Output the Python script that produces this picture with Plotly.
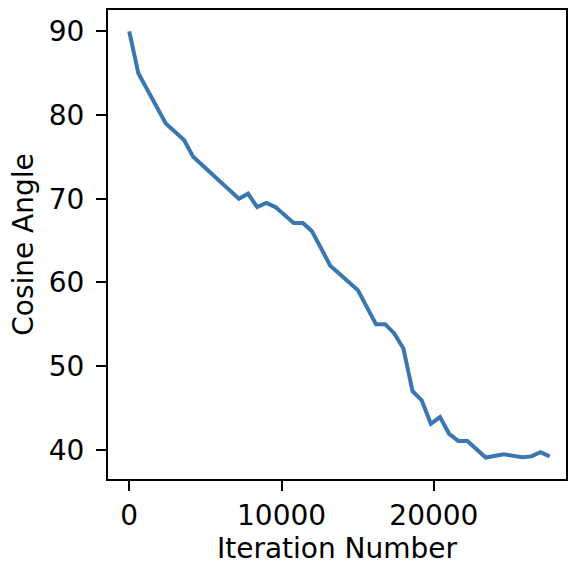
import plotly.graph_objects as go

iterations = [0, 600, 2400, 3600, 4200, 7200, 7800, 8400, 9000, 9600, 10800, 11400,
              12000, 13200, 15000, 16200, 16800, 17400, 18000, 18600, 19200, 19800,
              20400, 21000, 21600, 22200, 23400, 24600, 25800, 26400, 27000, 27600]
cosine_angle = [90.0, 85.0, 79.0, 77.0, 75.0, 70.0, 70.6, 69.0, 69.5, 69.0, 67.1, 67.1,
                66.1, 62.0, 59.1, 55.0, 55.0, 53.9, 52.1, 47.0, 45.9, 43.1,
                43.9, 41.9, 41.05, 41.05, 39.06, 39.45, 39.1, 39.2, 39.7, 39.2]
x_ticks = [0, 10000, 20000]
x_tick_labels = ["0", "10000", "20000"]
y_ticks = [40, 50, 60, 70, 80, 90]

fig = go.Figure()
fig.add_trace(go.Scatter(
    x=iterations, y=cosine_angle, mode="lines",
    line=dict(color="#3a76b0", width=4),
    showlegend=False,
))

font = dict(family="DejaVu Sans", size=28, color="black")
axis_common = dict(
    showline=True, linecolor="black", linewidth=2, mirror=True,
    ticks="outside", ticklen=10, tickwidth=2, tickcolor="black",
    showgrid=False, zeroline=False, tickfont=font,
)
fig.update_layout(
    width=568, height=565,
    margin=dict(l=108, r=0, t=10, b=86),
    paper_bgcolor="white", plot_bgcolor="white",
    font=font,
    xaxis=dict(range=[-1392, 28673], tickvals=x_ticks, ticktext=x_tick_labels,
               title=dict(text="Iteration Number", font=font, standoff=11),
               **axis_common),
    yaxis=dict(range=[36.5, 92.55], tickvals=y_ticks,
               title=dict(text="Cosine Angle", font=font, standoff=7),
               ticklabelstandoff=6,
               **axis_common),
)
fig.write_html("out.html")
